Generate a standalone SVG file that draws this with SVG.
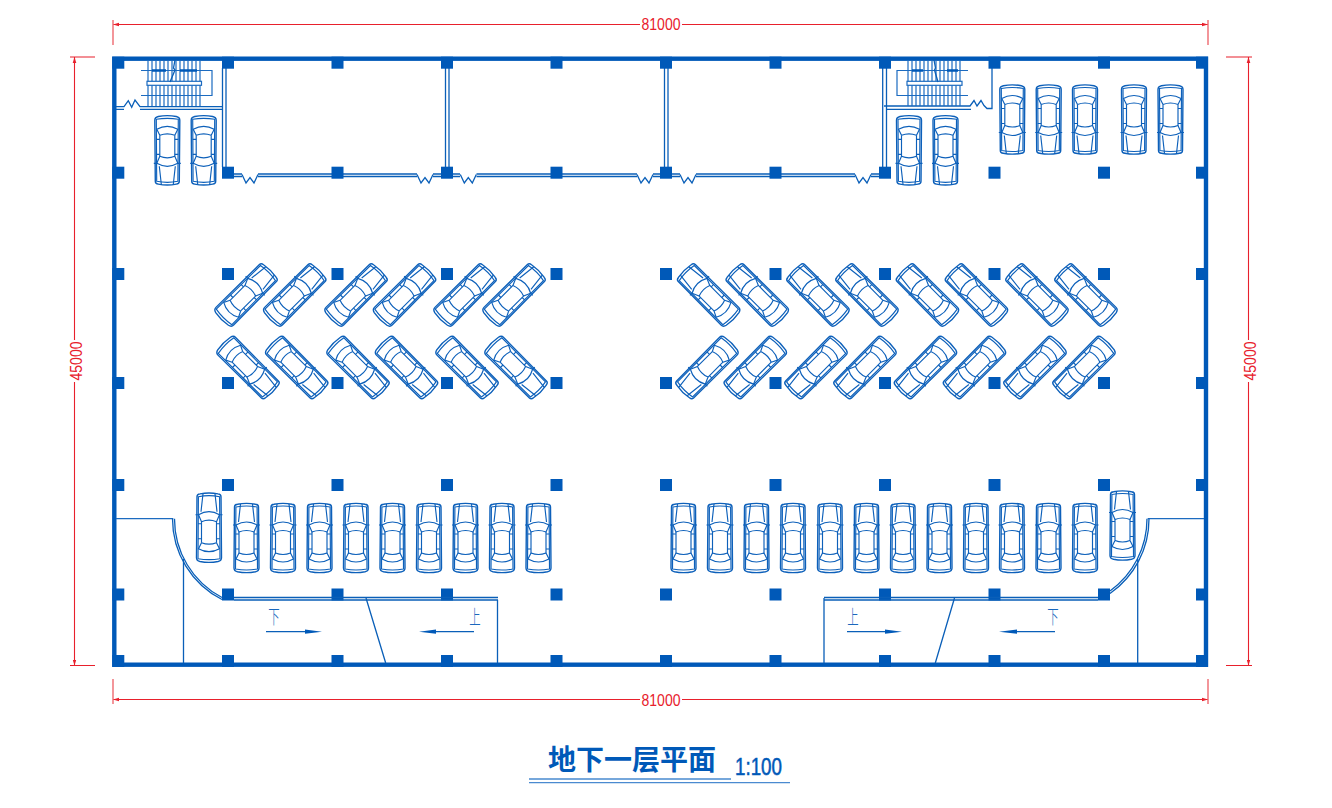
<svg xmlns="http://www.w3.org/2000/svg" width="1332" height="808" viewBox="0 0 1332 808">
<style>
.l{fill:none;stroke:#0a5fb8;stroke-width:1.3}
.t{fill:none;stroke:#1c6bc0;stroke-width:1.2}
.c{fill:#0059b8}
.dim{fill:none;stroke:#e8202c;stroke-width:1.1}
.tick{fill:none;stroke:#ee6a70;stroke-width:1.4}
.dt{fill:#e8202c;font-family:"Liberation Sans",Arial,sans-serif;font-size:16px;text-anchor:middle}
.cn{fill:#1a68bd;font-family:"Noto Sans CJK SC","Liberation Sans",sans-serif;font-size:19px;font-weight:300;text-anchor:middle}
.ar{fill:#0059b8}
</style>
<defs>
<marker id="dimA" markerWidth="7" markerHeight="5" refX="6" refY="2.5" orient="auto-start-reverse" markerUnits="userSpaceOnUse"><path d="M0 0.7L6 2.5L0 4.3Z" fill="#e8202c"/></marker>
<g id="car" fill="none" stroke="#0d60ba" stroke-width="1.15">
<path d="M-12-31Q-12-33.5-9-33.8Q0-35.5 9-33.8Q12-33.5 12-31L12.5 30Q12.5 33 9 33.8Q0 35.5-9 33.8Q-12.5 33-12.5 30Z" stroke-width="1.4"/>
<path d="M-10.6-31Q0-33 10.6-31L11 31Q0 33-11 31Z"/>
<path d="M-6-34L-8-16M6-34L8-16"/>
<path d="M-13.5-13L-10.5-13Q0-19 10.5-13L13.5-13"/>
<path d="M-10.5-13L-7.5-6Q0-9 7.5-6L10.5-13"/>
<path d="M-7.5-6V15M7.5-6V15"/>
<path d="M-7.5 15Q0 18 7.5 15M-7.5 15L-10.5 21Q0 27 10.500 21L7.5 15"/>
<path d="M-11-4H-7.5M7.5-4H11M-11 11H-7.5M7.5 11H11"/>
</g>
<path id="zz" class="l" d="M-8 0L-4 8.5L0 3L4 8.5L8 0"/>
<g id="colrow">
<rect class="c" x="112.3" width="12" height="12"/><rect class="c" x="222" width="12" height="12"/><rect class="c" x="331.5" width="12" height="12"/><rect class="c" x="441" width="12" height="12"/><rect class="c" x="550.5" width="12" height="12"/><rect class="c" x="660" width="12" height="12"/><rect class="c" x="769.5" width="12" height="12"/><rect class="c" x="879" width="12" height="12"/><rect class="c" x="988.5" width="12" height="12"/><rect class="c" x="1098" width="12" height="12"/><rect class="c" x="1196" width="12" height="12"/>
</g>
</defs>

<g id="dimensions">
<path class="dim" d="M113 24.5H640" marker-start="url(#dimA)"/>
<path class="dim" d="M682 24.5H1208" marker-end="url(#dimA)"/>
<path class="tick" d="M113 20V45M1208 20V45"/>
<text class="dt" x="661" y="30" textLength="39" lengthAdjust="spacingAndGlyphs">81000</text>
<path class="dim" d="M113 699.5H640" marker-start="url(#dimA)"/>
<path class="dim" d="M682 699.5H1208" marker-end="url(#dimA)"/>
<path class="tick" d="M113 679V704M1208 679V704"/>
<text class="dt" x="661" y="705.5" textLength="39" lengthAdjust="spacingAndGlyphs">81000</text>
<path class="dim" d="M74.5 57V340" marker-start="url(#dimA)"/>
<path class="dim" d="M74.5 382V665.5" marker-end="url(#dimA)"/>
<path class="dim" d="M70 57H95M70 665.5H95"/>
<text class="dt" transform="translate(81.500 361) rotate(-90)" textLength="39" lengthAdjust="spacingAndGlyphs">45000</text>
<path class="dim" d="M1248.5 57V340" marker-start="url(#dimA)"/>
<path class="dim" d="M1248.5 382V665.5" marker-end="url(#dimA)"/>
<path class="dim" d="M1226 57H1252M1226 665.5H1252"/>
<text class="dt" transform="translate(1255.500 361) rotate(-90)" textLength="39" lengthAdjust="spacingAndGlyphs">45000</text>
</g>

<g id="walls">
<rect x="114.3" y="58.7" width="1091.7" height="606" fill="none" stroke="#0059b8" stroke-width="4.4"/>
<path class="l" d="M222.5 68V167M226 68V167M445.5 68V167M449 68V167M664.5 68V167M668 68V167M882.7 68V167M886.5 68V167"/>
<path class="l" d="M234 174H242M234 176.5H242M258 174H417M258 176.5H417M433 174H441M433 176.5H441M453 174H460M453 176.5H460M476.5 174H637M476.5 176.5H637M653 174H660M653 176.5H660M672 174H680M672 176.5H680M696 174H855M696 176.5H855M871 174H879M871 176.5H879"/>
<use href="#zz" x="250" y="174.5"/><use href="#zz" x="425" y="174.5"/><use href="#zz" x="468.3" y="174.5"/><use href="#zz" x="645" y="174.5"/><use href="#zz" x="688" y="174.5"/><use href="#zz" x="863" y="174.5"/>
</g>

<g id="columns">
<use href="#colrow" y="56.7"/><use href="#colrow" y="166.7"/><use href="#colrow" y="268"/><use href="#colrow" y="377"/><use href="#colrow" y="479"/><use href="#colrow" y="588.5"/><use href="#colrow" y="655"/>
</g>

<g id="stair-left">
<path class="l" d="M116 106.7H124L128.3 100.7L131.7 107.3L135 100L140 106.7H223M116 109.3H124M140 109.3H223"/>
<path class="t" d="M148 60V106M152 60V106M156 60V106M160 60V106M164 60V106M168 60V106M172 60V106M176 60V106M180 60V106M184 60V106M188 60V106M192 60V106M196 60V106M200 60V106"/>
<path class="t" d="M141 70.5H212V95.5H141"/>
<path d="M152 70.5H166M180 70.5H197" stroke="#0059b8" stroke-width="2.5" fill="none"/>
<rect x="147" y="81.3" width="54.5" height="4" fill="#fff" stroke="#1c6bc0" stroke-width="1.2"/>
<path class="l" d="M175 60L173.5 68L175 70L170 82"/>
</g>

<g id="stair-right">
<path class="l" d="M884 106H970L974 100.5L977 106L981 100.5L984 105.5L987 108.5H992V68M886.5 109.3H971"/>
<path class="t" d="M908 60V106M912 60V106M916 60V106M920 60V106M924 60V106M928 60V106M932 60V106M936 60V106M940 60V106M944 60V106M948 60V106M952 60V106M956 60V106M960 60V106"/>
<path class="t" d="M968 70.5H897V95.5H968"/>
<path d="M912 70.5H923M947 70.5H958" stroke="#0059b8" stroke-width="2.5" fill="none"/>
<rect x="907" y="81.3" width="55" height="4" fill="#fff" stroke="#1c6bc0" stroke-width="1.2"/>
<path class="l" d="M934 60L935.5 68L934.500 70L938 82"/>
</g>

<g id="ramp-left">
<path class="t" d="M116 518.7H173.3"/>
<path class="l" d="M172.500 518.7A90.500 90.500 0 0 0 222 599.500M174.500 518.7A88.500 88.500 0 0 0 222 597.500"/>
<path class="l" d="M234 597.5H498M234 600H498"/>
<path class="l" d="M183.5 559V663M497.5 600V663M366 598L385.700 663"/>
<path class="l" d="M266 631.7H306"/>
<path class="ar" d="M305 629.5L322 631.7L305 633.7Z"/>
<path class="l" d="M474 631.7H435"/>
<path class="ar" d="M436 629.5L419 631.7L436 633.7Z"/>
<text class="cn" transform="translate(274 624) scale(0.6 1)">下</text>
<text class="cn" transform="translate(475 624) scale(0.6 1)">上</text>
</g>

<g id="ramp-right">
<path class="t" d="M1147.7 518.7H1204"/>
<path class="l" d="M1149 518.7A91 91 0 0 1 1110 593.5M1147 518.7A89 89 0 0 1 1110 591"/>
<path class="l" d="M824 597.5H1098M824 600H1098"/>
<path class="l" d="M824 598V663M1137.7 559V663M954.5 598L935.3 663"/>
<path class="l" d="M847 631.7H886"/>
<path class="ar" d="M885 629.5L902 631.7L885 633.7Z"/>
<path class="l" d="M1055 631.7H1016"/>
<path class="ar" d="M1017 629.5L999 631.7L1017 633.7Z"/>
<text class="cn" transform="translate(853 624) scale(0.6 1)">上</text>
<text class="cn" transform="translate(1053 624) scale(0.6 1)">下</text>
</g>

<g id="cars-top">
<use href="#car" transform="translate(167.3 150.3) rotate(180)"/>
<use href="#car" transform="translate(203.7 150.3) rotate(180)"/>
<use href="#car" transform="translate(909 150.3) rotate(180)"/>
<use href="#car" transform="translate(945.5 150.3) rotate(180)"/>
<use href="#car" transform="translate(1012.3 119.5) rotate(180)"/>
<use href="#car" transform="translate(1048.7 119.5) rotate(180)"/>
<use href="#car" transform="translate(1085 119.5) rotate(180)"/>
<use href="#car" transform="translate(1134 119.5) rotate(180)"/>
<use href="#car" transform="translate(1170.5 119.5) rotate(180)"/>
</g>

<g id="cars-angled-left">
<use href="#car" transform="translate(246 295) rotate(45)"/>
<use href="#car" transform="translate(294.7 295) rotate(45)"/>
<use href="#car" transform="translate(356 295) rotate(45)"/>
<use href="#car" transform="translate(404.5 295) rotate(45)"/>
<use href="#car" transform="translate(465 295) rotate(45)"/>
<use href="#car" transform="translate(514 295) rotate(45)"/>
<use href="#car" transform="translate(248 367.5) rotate(135)"/>
<use href="#car" transform="translate(296.7 367.5) rotate(135)"/>
<use href="#car" transform="translate(358 367.5) rotate(135)"/>
<use href="#car" transform="translate(406.5 367.5) rotate(135)"/>
<use href="#car" transform="translate(467 367.5) rotate(135)"/>
<use href="#car" transform="translate(516 367.5) rotate(135)"/>
</g>

<g id="cars-angled-right">
<use href="#car" transform="translate(708.7 295) rotate(-45)"/>
<use href="#car" transform="translate(757.3 295) rotate(-45)"/>
<use href="#car" transform="translate(818 295) rotate(-45)"/>
<use href="#car" transform="translate(867 295) rotate(-45)"/>
<use href="#car" transform="translate(927.5 295) rotate(-45)"/>
<use href="#car" transform="translate(976.5 295) rotate(-45)"/>
<use href="#car" transform="translate(1037 295) rotate(-45)"/>
<use href="#car" transform="translate(1086 295) rotate(-45)"/>
<use href="#car" transform="translate(707 367.5) rotate(-135)"/>
<use href="#car" transform="translate(755.3 367.5) rotate(-135)"/>
<use href="#car" transform="translate(816 367.5) rotate(-135)"/>
<use href="#car" transform="translate(865 367.5) rotate(-135)"/>
<use href="#car" transform="translate(925.5 367.5) rotate(-135)"/>
<use href="#car" transform="translate(974.5 367.5) rotate(-135)"/>
<use href="#car" transform="translate(1035 367.5) rotate(-135)"/>
<use href="#car" transform="translate(1084 367.5) rotate(-135)"/>
</g>

<g id="cars-bottom">
<use href="#car" transform="translate(209 527.7)"/>
<use href="#car" transform="translate(246.5 538)"/>
<use href="#car" transform="translate(283 538)"/>
<use href="#car" transform="translate(319.5 538)"/>
<use href="#car" transform="translate(356 538)"/>
<use href="#car" transform="translate(392.5 538)"/>
<use href="#car" transform="translate(429 538)"/>
<use href="#car" transform="translate(465.5 538)"/>
<use href="#car" transform="translate(502 538)"/>
<use href="#car" transform="translate(538.5 538)"/>
<use href="#car" transform="translate(683.5 538)"/>
<use href="#car" transform="translate(720 538)"/>
<use href="#car" transform="translate(756.5 538)"/>
<use href="#car" transform="translate(793 538)"/>
<use href="#car" transform="translate(830 538)"/>
<use href="#car" transform="translate(866.5 538)"/>
<use href="#car" transform="translate(903 538)"/>
<use href="#car" transform="translate(939.5 538)"/>
<use href="#car" transform="translate(976 538)"/>
<use href="#car" transform="translate(1012 538)"/>
<use href="#car" transform="translate(1048.5 538)"/>
<use href="#car" transform="translate(1085 538)"/>
<use href="#car" transform="translate(1122.5 525.5)"/>
</g>

<g id="title">
<text x="548" y="770" fill="#0059b8" font-family="'Noto Sans CJK SC','Liberation Sans',sans-serif" font-size="28" font-weight="700" textLength="168" lengthAdjust="spacingAndGlyphs">地下一层平面</text>
<text x="735" y="775" fill="#0059b8" stroke="#0059b8" stroke-width="0.5" font-family="'Liberation Sans',Arial,sans-serif" font-size="23" textLength="47" lengthAdjust="spacingAndGlyphs">1:100</text>
<path d="M529 779H731M529 782.7H790" stroke="#4a8ad0" stroke-width="1.3" fill="none"/>
</g>
</svg>
